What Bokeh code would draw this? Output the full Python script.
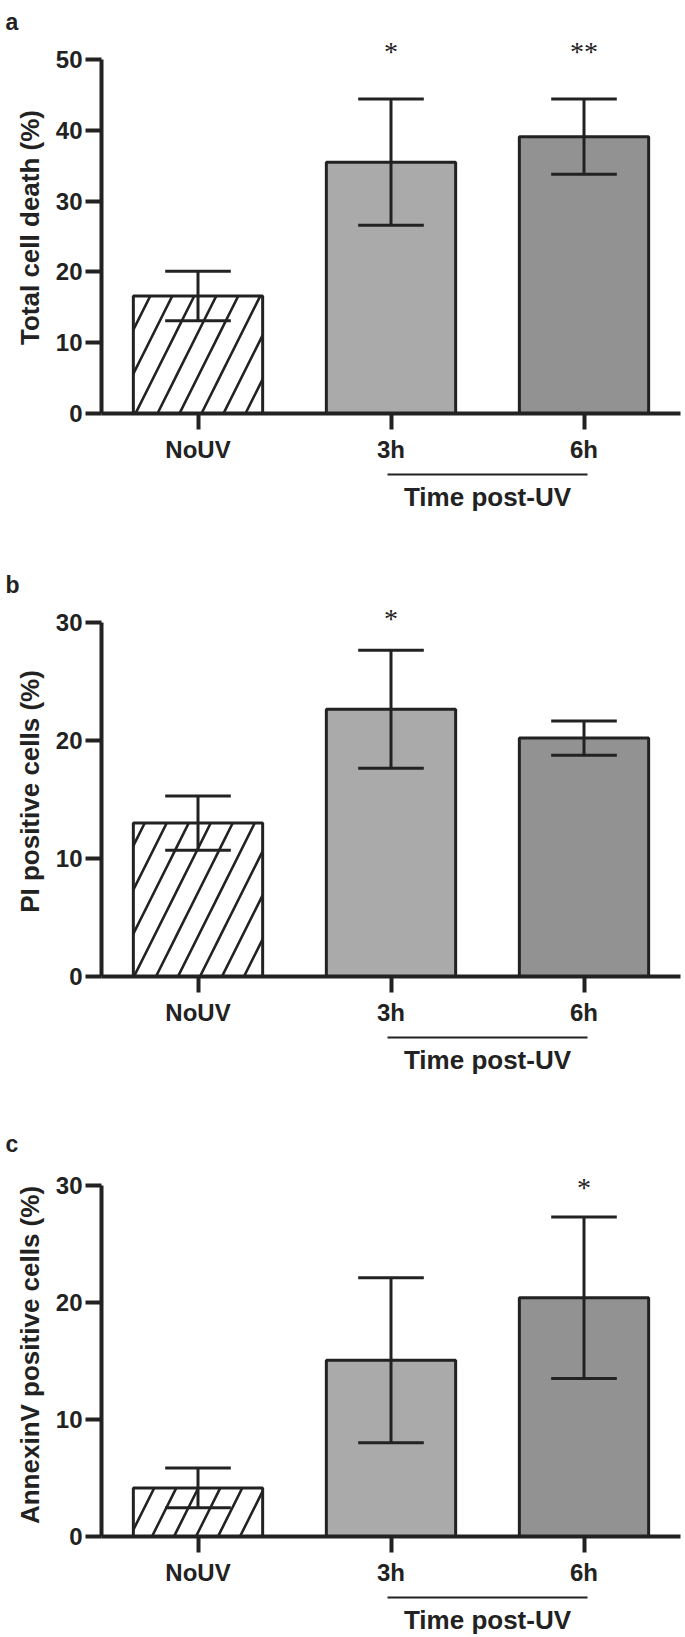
from bokeh.plotting import figure
from bokeh.models import (Range1d, LabelSet, LinearAxis, FixedTicker,
                          ColumnDataSource)
from bokeh.layouts import column
from bokeh.embed import file_html
from bokeh.resources import INLINE

# ---------------- data ----------------
categories = ["NoUV", "3h", "6h"]

a_mean = [16.6, 35.5, 39.1]
a_err = [3.5, 8.9, 5.3]
a_stars = ["", "*", "**"]

b_mean = [13.0, 22.65, 20.2]
b_err = [2.3, 5.0, 1.45]
b_stars = ["", "*", ""]

c_mean = [4.15, 15.05, 20.4]
c_err = [1.7, 7.05, 6.9]
c_stars = ["", "", "*"]

a_ticks = [0, 10, 20, 30, 40, 50]
bc_ticks = [0, 10, 20, 30]

bar_colors = ["white", "#aaaaaa", "#929292"]
bar_hatch = ["/", " ", " "]

INK = "#222222"
FONT = "Liberation Sans"

AXIS_H = 355    # pixel length of the y axis (0 .. top tick)
CAP = 0.17      # half width of the error-bar caps (category units)
TITLE_BOX = 27  # room taken by the panel letter


def make_panel(letter, ylabel, ymax, ticks, mean, err, stars,
               height, top, ext, star_px):
    ppu = AXIS_H / ymax
    n = len(categories)
    xs = [i + 0.5 for i in range(n)]
    border_top = top - ext
    p = figure(x_range=Range1d(0, n), y_range=Range1d(0, ymax + ext / ppu),
               width=685, height=height, output_backend="svg",
               toolbar_location=None, min_border_left=101, min_border_right=5,
               min_border_top=border_top,
               min_border_bottom=height - top - AXIS_H, title=letter)
    p.outline_line_color = None
    p.xgrid.grid_line_color = None
    p.ygrid.grid_line_color = None

    # panel letter
    p.title.text_font = FONT
    p.title.text_font_style = "bold"
    p.title.text_font_size = "23px"
    p.title.text_color = INK
    p.title.align = "left"
    p.title.offset = -96
    p.title.standoff = border_top - TITLE_BOX

    src = ColumnDataSource(dict(
        x=xs, xl=[x - CAP for x in xs], xr=[x + CAP for x in xs],
        mean=mean,
        upper=[m + e for m, e in zip(mean, err)],
        lower=[m - e for m, e in zip(mean, err)],
        color=bar_colors, hatch=bar_hatch, star=stars,
        stary=[ymax + star_px / ppu] * n,
    ))

    p.vbar(x="x", top="mean", width=0.67, source=src, fill_color="color",
           line_color=INK, line_width=3, hatch_pattern="hatch",
           hatch_color=INK, hatch_weight=2.6, hatch_scale=44)
    # error bars
    p.segment(x0="x", y0="lower", x1="x", y1="upper", source=src,
              line_color=INK, line_width=3)
    for f in ("upper", "lower"):
        p.segment(x0="xl", y0=f, x1="xr", y1=f, source=src,
                  line_color=INK, line_width=3)

    # significance stars
    p.add_layout(LabelSet(x="x", y="stary", text="star", source=src,
                          text_align="center", text_baseline="middle",
                          text_font=FONT, text_font_size="28px",
                          text_color=INK))

    # axes
    p.xaxis.ticker = FixedTicker(ticks=xs)
    p.xaxis.major_label_overrides = {x: c for x, c in zip(xs, categories)}
    for ax in (p.xaxis, p.yaxis):
        ax.axis_line_width = 4
        ax.axis_line_color = INK
        ax.major_tick_line_width = 4
        ax.major_tick_line_color = INK
        ax.major_tick_out = 16
        ax.major_tick_in = 0
        ax.minor_tick_line_color = None
        ax.major_label_text_font = FONT
        ax.major_label_text_font_style = "bold"
        ax.major_label_text_font_size = "24px"
        ax.major_label_text_color = INK
    p.yaxis.ticker = FixedTicker(ticks=ticks)
    p.yaxis.bounds = (0, ymax)
    p.yaxis.major_label_standoff = 3
    p.xaxis.major_label_standoff = 6
    # small spacer below the category labels
    p.xaxis.axis_label = " "
    p.xaxis.axis_label_text_font_size = "5px"
    p.xaxis.axis_label_standoff = 0

    p.yaxis.axis_label = ylabel
    p.yaxis.axis_label_text_font = FONT
    p.yaxis.axis_label_text_font_style = "bold"
    p.yaxis.axis_label_text_font_size = "26px"
    p.yaxis.axis_label_text_color = INK
    p.yaxis.axis_label_standoff = 8

    # "Time post-UV" bracket: a bounded secondary axis under 3h .. 6h
    i3 = xs[categories.index("3h")]
    i6 = xs[categories.index("6h")]
    mid = (i3 + i6) / 2
    ax2 = LinearAxis(bounds=(i3 - 0.02, i6 + 0.02),
                     ticker=FixedTicker(ticks=[mid]),
                     major_label_overrides={mid: "Time post-UV"})
    ax2.axis_line_width = 2
    ax2.axis_line_color = INK
    ax2.major_tick_line_color = None
    ax2.major_tick_out = 0
    ax2.major_tick_in = 0
    ax2.minor_tick_line_color = None
    ax2.major_label_standoff = 7
    ax2.major_label_text_font = FONT
    ax2.major_label_text_font_style = "bold"
    ax2.major_label_text_font_size = "26px"
    ax2.major_label_text_color = INK
    p.add_layout(ax2, "below")
    return p


pa = make_panel("a", "Total cell death (%)", 50, a_ticks, a_mean, a_err,
                a_stars, 560, 58, 18, 8)
pb = make_panel("b", "PI positive cells (%)", 30, bc_ticks, b_mean, b_err,
                b_stars, 552, 61, 16, 4)
pc = make_panel("c", "AnnexinV positive cells (%)", 30, bc_ticks, c_mean,
                c_err, c_stars, 525, 72, 12, -2)

layout = column(pa, pb, pc, spacing=0)
open("out.html", "w").write(file_html(layout, INLINE))
